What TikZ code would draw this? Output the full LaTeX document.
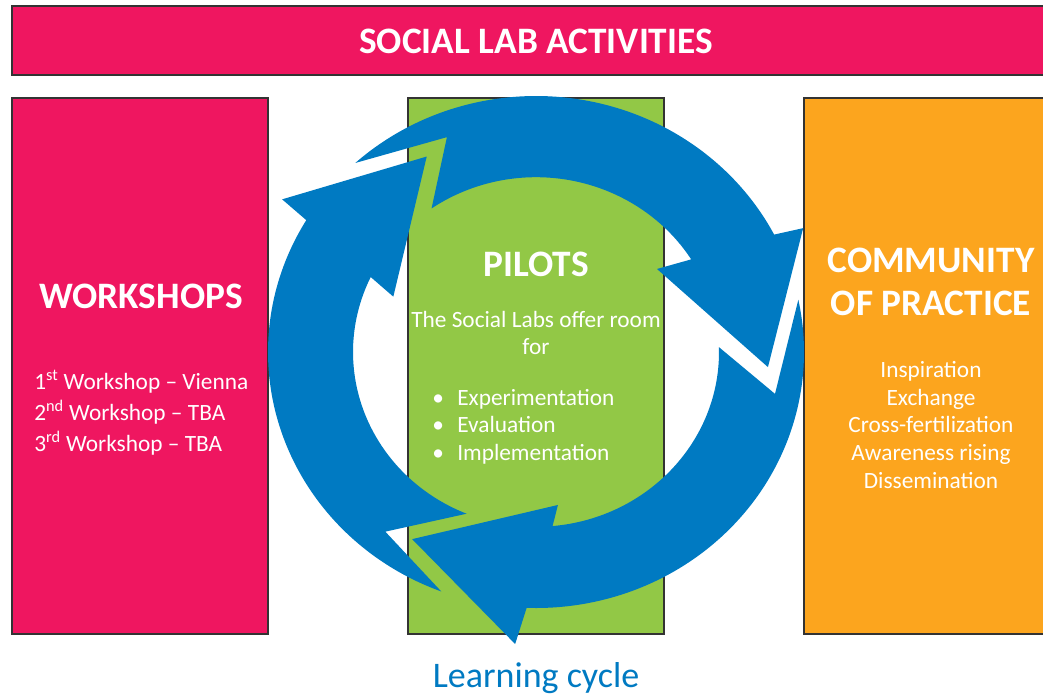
\documentclass[tikz,border=0pt]{standalone}
\usepackage{fontspec}
\setmainfont{Carlito}
\definecolor{labpink}{RGB}{239,22,96}
\definecolor{pilotgreen}{RGB}{146,200,70}
\definecolor{practiceorange}{RGB}{252,165,30}
\definecolor{cycleblue}{RGB}{0,122,194}
\tikzset{
    box/.style={draw=black!80, line width=0.8pt},
    headline/.style={text=white, inner sep=0pt, anchor=base, font=\fontsize{28}{32}\selectfont\bfseries},
    bodyline/.style={text=white, inner sep=0pt, anchor=base, font=\fontsize{17.5}{21}\selectfont},
    cyclearrow/.style={fill=cycleblue, draw=none}
}
\begin{document}
\begin{tikzpicture}[x=0.75pt, y=-0.75pt]
            \useasboundingbox (0,0) rectangle (1043,696);
            % banner
            \fill[labpink, box, line width=1.2pt] (12,6) rectangle (1050,75);
            \node[headline] (title) at (536,53) {SOCIAL LAB ACTIVITIES};
            % three columns
            \fill[labpink, box] (12,98) rectangle (268,634);
            \fill[pilotgreen, box] (408,98) rectangle (664,634);
            \fill[practiceorange, box] (804,98) rectangle (1050,634);
            % the learning cycle
            \begin{scope}[shift={(536,352)}, yscale=-1]
                \fill[cyclearrow] (249.3:268 and 256)
                    arc[start angle=249.3, end angle=149, x radius=268, y radius=256]
                    -- (147.8:300 and 286.5) -- (118.1:232 and 221.6) -- (157.9:154 and 147.1)
                    -- (154.6:183 and 174.8)
                    arc[start angle=154.6, end angle=247.7, x radius=183, y radius=174.8]
                    -- (231.3:241 and 230.2) -- cycle;
                \fill[cyclearrow] (132.4:268 and 256)
                    arc[start angle=132.4, end angle=27.3, x radius=268, y radius=256]
                    -- (25.9:297 and 283.6) -- (-3.9:232.5 and 222) -- (35.7:149 and 142.3)
                    -- (32:183 and 174.8)
                    arc[start angle=32, end angle=124.8, x radius=183, y radius=174.8]
                    -- (111.6:242 and 231.1) -- cycle;
                \fill[cyclearrow] (11.8:268 and 256)
                    arc[start angle=11.8, end angle=-92, x radius=268, y radius=256]
                    -- (-93.9:306.5 and 292.7) -- (-122.3:231.8 and 221.4) -- (-82.2:161.7 and 154.4)
                    -- (-84.8:183 and 174.8)
                    arc[start angle=-84.8, end angle=1.6, x radius=183, y radius=174.8]
                    -- (-10.4:243 and 232) -- cycle;
            \end{scope}
            % workshops
            \node[headline] (workshops) at (141,308) {WORKSHOPS};
            \path (34,389) node[bodyline, anchor=base west] (ws1) {1\textsuperscript{st} Workshop -- Vienna}
                ++(0,31) node[bodyline, anchor=base west] (ws2) {2\textsuperscript{nd} Workshop -- TBA}
                ++(0,31) node[bodyline, anchor=base west] (ws3) {3\textsuperscript{rd} Workshop -- TBA};
            % pilots
            \node[headline] (pilots) at (536,276) {PILOTS};
            \path (536,327) node[bodyline] (room) {The Social Labs offer room}
                ++(0,27) node[bodyline] (for) {for};
            \path (432,405.5) node[bodyline, anchor=base west] (exp) {\makebox[18.75pt][l]{•}Experimentation}
                ++(0,27.3) node[bodyline, anchor=base west] (eval) {\makebox[18.75pt][l]{•}Evaluation}
                ++(0,27.3) node[bodyline, anchor=base west] (impl) {\makebox[18.75pt][l]{•}Implementation};
            % community of practice
            \path (931,272) node[headline] (community) {COMMUNITY}
                ++(0,43) node[headline] (practice) {OF PRACTICE};
            \path (931,377.3) node[bodyline] (insp) {Inspiration}
                ++(0,27.7) node[bodyline] (exch) {Exchange}
                ++(0,27.7) node[bodyline] (cross) {Cross-fertilization}
                ++(0,27.7) node[bodyline] (aware) {Awareness rising}
                ++(0,27.7) node[bodyline] (diss) {Dissemination};
            % caption
            \node[inner sep=0pt, anchor=base, text=cycleblue, font=\fontsize{27}{32}\selectfont] (caption) at (536,687.5) {Learning cycle};
        \end{tikzpicture}
\end{document}
